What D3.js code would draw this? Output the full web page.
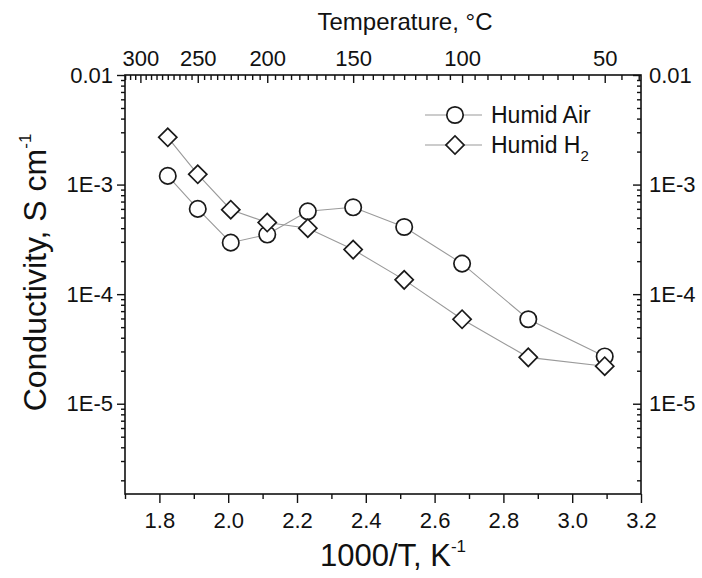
<!DOCTYPE html>
<html>
<head>
<meta charset="utf-8">
<script src="https://cdn.jsdelivr.net/npm/d3@7/dist/d3.min.js"></script>
<style>
  html, body { margin: 0; padding: 0; background: #fff; }
  svg { display: block; font-family: "Liberation Sans", Arial, sans-serif; }
</style>
</head>
<body>
<svg id="chart" width="702" height="578"></svg>
<script>
// measured at 275 ... 50 °C, plotted against 1000/T
const tempsC = [275, 250, 225, 200, 175, 150, 125, 100, 75, 50];
const airValues = [1.2e-3, 6.0e-4, 2.95e-4, 3.5e-4, 5.7e-4, 6.2e-4, 4.1e-4, 1.9e-4, 5.9e-5, 2.7e-5];
const h2Values = [2.7e-3, 1.24e-3, 5.9e-4, 4.5e-4, 4.0e-4, 2.55e-4, 1.35e-4, 5.9e-5, 2.65e-5, 2.2e-5];

const xTicks = [1.8, 2.0, 2.2, 2.4, 2.6, 2.8, 3.0, 3.2];
const xMinorTicks = [1.7, 1.9, 2.1, 2.3, 2.5, 2.7, 2.9, 3.1];
const yTicks = [1e-2, 1e-3, 1e-4, 1e-5];
const yTickLabels = ['0.01', '1E-3', '1E-4', '1E-5'];
const topTicksC = [300, 250, 200, 150, 100, 50];

const invT = c => 1000 / (c + 273.15);

const W = 702, H = 578;
const margin = { top: 75, right: 61, bottom: 84, left: 125 };
const iw = W - margin.left - margin.right;
const ih = H - margin.top - margin.bottom;

const svg = d3.select('#chart');
const g = svg.append('g').attr('transform', `translate(${margin.left},${margin.top})`);

const x = d3.scaleLinear().domain([1.7, 3.2]).range([0, iw]);
const y = d3.scaleLog().domain([1.5e-6, 1e-2]).range([ih, 0]);

// minor log ticks 2..9 in every decade
const yMinor = [];
for (let e = -6; e <= -3; e++) {
  for (let m = 2; m <= 9; m++) {
    const v = m * Math.pow(10, e);
    if (v >= y.domain()[0] && v < 1e-2) yMinor.push(v);
  }
}

// top axis minor ticks every 5 °C
const topMinorC = d3.range(315, 35, -5).filter(c => !topTicksC.includes(c) && invT(c) >= 1.7 && invT(c) <= 3.2);

const axisStyle = sel => {
  sel.select('.domain').remove();
  sel.selectAll('line').attr('stroke', '#111').attr('stroke-width', 1.4);
  sel.selectAll('text').attr('fill', '#111').attr('font-size', 22);
};

// bottom
g.append('g').attr('transform', `translate(0,${ih})`)
  .call(d3.axisBottom(x).tickValues(xTicks).tickFormat(d3.format('.1f')).tickSize(9).tickPadding(9))
  .call(axisStyle);
g.append('g').attr('transform', `translate(0,${ih})`)
  .call(d3.axisBottom(x).tickValues(xMinorTicks).tickFormat('').tickSize(5))
  .call(axisStyle);

// left
g.append('g')
  .call(d3.axisLeft(y).tickValues(yTicks).tickFormat((d, i) => yTickLabels[i]).tickSize(8).tickPadding(4))
  .call(axisStyle);
g.append('g')
  .call(d3.axisLeft(y).tickValues(yMinor).tickFormat('').tickSize(4))
  .call(axisStyle);

// right (ticks inward)
g.append('g').attr('transform', `translate(${iw},0)`)
  .call(d3.axisRight(y).tickValues(yTicks).tickFormat((d, i) => yTickLabels[i]).tickSize(-8).tickPadding(8))
  .call(axisStyle);
g.append('g').attr('transform', `translate(${iw},0)`)
  .call(d3.axisRight(y).tickValues(yMinor).tickFormat('').tickSize(-4))
  .call(axisStyle);

// top, temperature in °C (ticks inward)
g.append('g')
  .call(d3.axisTop(x).tickValues(topTicksC.map(invT)).tickFormat((d, i) => topTicksC[i]).tickSize(-8).tickPadding(9))
  .call(axisStyle);
g.append('g')
  .call(d3.axisTop(x).tickValues(topMinorC.map(invT)).tickFormat('').tickSize(-5))
  .call(axisStyle);

// frame
g.append('rect')
  .attr('width', iw).attr('height', ih)
  .attr('fill', 'none').attr('stroke', '#111').attr('stroke-width', 1.6);

// series
const lineGen = d3.line().x(d => x(d.x)).y(d => y(d.v));
const air = tempsC.map((c, i) => ({ x: invT(c), v: airValues[i] }));
const h2 = tempsC.map((c, i) => ({ x: invT(c), v: h2Values[i] }));

const diamond = d3.symbol().type(d3.symbolSquare).size(165);

[h2, air].forEach(data => {
  g.append('path').datum(data)
    .attr('d', lineGen)
    .attr('fill', 'none').attr('stroke', '#9a9a9a').attr('stroke-width', 1.1);
});

g.selectAll('.air').data(air).enter().append('circle')
  .attr('class', 'air')
  .attr('cx', d => x(d.x)).attr('cy', d => y(d.v)).attr('r', 8.2)
  .attr('fill', '#fff').attr('stroke', '#1a1a1a').attr('stroke-width', 1.7);

g.selectAll('.h2').data(h2).enter().append('path')
  .attr('class', 'h2')
  .attr('d', diamond)
  .attr('transform', d => `translate(${x(d.x)},${y(d.v)}) rotate(45)`)
  .attr('fill', '#fff').attr('stroke', '#1a1a1a').attr('stroke-width', 1.7);

// legend
const legend = svg.append('g').attr('transform', 'translate(425,115)');
[0, 1].forEach(i => {
  const row = legend.append('g').attr('transform', `translate(0,${i * 30})`);
  row.append('line').attr('x1', 0).attr('x2', 57)
    .attr('stroke', '#9a9a9a').attr('stroke-width', 1.1);
  if (i === 0) {
    row.append('circle').attr('cx', 30).attr('r', 8.2)
      .attr('fill', '#fff').attr('stroke', '#1a1a1a').attr('stroke-width', 1.7);
  } else {
    row.append('path').attr('d', diamond).attr('transform', 'translate(30,0) rotate(45)')
      .attr('fill', '#fff').attr('stroke', '#1a1a1a').attr('stroke-width', 1.7);
  }
  const t = row.append('text').attr('x', 66).attr('dy', '0.36em')
    .attr('font-size', 23).attr('fill', '#111');
  if (i === 0) {
    t.text('Humid Air');
  } else {
    t.text('Humid H');
    t.append('tspan').attr('font-size', 15).attr('dy', 8).text('2');
  }
});

// axis titles
svg.append('text')
  .attr('x', 393).attr('y', 566)
  .attr('text-anchor', 'middle').attr('font-size', 31).attr('fill', '#111')
  .text('1000/T, K')
  .append('tspan').attr('font-size', 17).attr('dy', -14).text('-1');

const yt = svg.append('text')
  .attr('transform', `translate(46,${margin.top + ih / 2 - 12}) rotate(-90)`)
  .attr('text-anchor', 'middle').attr('font-size', 32).attr('fill', '#111')
  .text('Conductivity, S cm');
yt.append('tspan').attr('font-size', 17).attr('dy', -15).text('-1');

svg.append('text')
  .attr('x', 405).attr('y', 30)
  .attr('text-anchor', 'middle').attr('font-size', 24).attr('fill', '#111')
  .text('Temperature, ')
  .append('tspan').text('°C');
</script>
</body>
</html>
